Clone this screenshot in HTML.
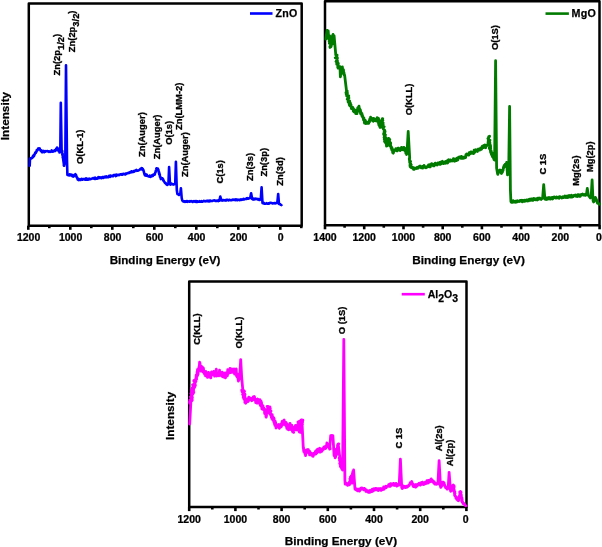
<!DOCTYPE html>
<html lang="en"><head><meta charset="utf-8"><title>XPS survey spectra</title>
<style>html,body{margin:0;padding:0;background:#fff}svg{display:block}svg{will-change:transform}</style>
</head><body>
<svg width="602" height="547" viewBox="0 0 602 547">
<rect width="602" height="547" fill="#fff"/>
<g font-family="'Liberation Sans', Arial, sans-serif" font-weight="bold" fill="#000" opacity=".999">
<style>text{stroke:#000;stroke-width:.25px;stroke-linejoin:round}</style>
<g fill="none" stroke="#000" stroke-width="2.5" stroke-linejoin="round">
<rect x="28.8" y="3.6" width="272.9" height="222.1"/>
<rect x="325" y="1.2" width="274.5" height="224.0"/>
<rect x="189.2" y="281.5" width="277.3" height="225.6"/>
</g>
<g stroke="#000" stroke-width="2.6">
<line x1="28.3" y1="225.7" x2="28.3" y2="229.8"/>
<line x1="49.3" y1="225.7" x2="49.3" y2="228.2"/>
<line x1="70.3" y1="225.7" x2="70.3" y2="229.8"/>
<line x1="91.3" y1="225.7" x2="91.3" y2="228.2"/>
<line x1="112.3" y1="225.7" x2="112.3" y2="229.8"/>
<line x1="133.3" y1="225.7" x2="133.3" y2="228.2"/>
<line x1="154.3" y1="225.7" x2="154.3" y2="229.8"/>
<line x1="175.3" y1="225.7" x2="175.3" y2="228.2"/>
<line x1="196.3" y1="225.7" x2="196.3" y2="229.8"/>
<line x1="217.3" y1="225.7" x2="217.3" y2="228.2"/>
<line x1="238.3" y1="225.7" x2="238.3" y2="229.8"/>
<line x1="259.3" y1="225.7" x2="259.3" y2="228.2"/>
<line x1="280.3" y1="225.7" x2="280.3" y2="229.8"/>
<line x1="301.3" y1="225.7" x2="301.3" y2="228.2"/>
<line x1="325.0" y1="225.2" x2="325.0" y2="229.3"/>
<line x1="344.6" y1="225.2" x2="344.6" y2="227.7"/>
<line x1="364.2" y1="225.2" x2="364.2" y2="229.3"/>
<line x1="383.8" y1="225.2" x2="383.8" y2="227.7"/>
<line x1="403.5" y1="225.2" x2="403.5" y2="229.3"/>
<line x1="423.1" y1="225.2" x2="423.1" y2="227.7"/>
<line x1="442.7" y1="225.2" x2="442.7" y2="229.3"/>
<line x1="462.3" y1="225.2" x2="462.3" y2="227.7"/>
<line x1="481.9" y1="225.2" x2="481.9" y2="229.3"/>
<line x1="501.5" y1="225.2" x2="501.5" y2="227.7"/>
<line x1="521.1" y1="225.2" x2="521.1" y2="229.3"/>
<line x1="540.8" y1="225.2" x2="540.8" y2="227.7"/>
<line x1="560.4" y1="225.2" x2="560.4" y2="229.3"/>
<line x1="580.0" y1="225.2" x2="580.0" y2="227.7"/>
<line x1="599.6" y1="225.2" x2="599.6" y2="229.3"/>
<line x1="189.2" y1="507.0" x2="189.2" y2="511.1"/>
<line x1="212.3" y1="507.0" x2="212.3" y2="509.5"/>
<line x1="235.4" y1="507.0" x2="235.4" y2="511.1"/>
<line x1="258.5" y1="507.0" x2="258.5" y2="509.5"/>
<line x1="281.6" y1="507.0" x2="281.6" y2="511.1"/>
<line x1="304.7" y1="507.0" x2="304.7" y2="509.5"/>
<line x1="327.8" y1="507.0" x2="327.8" y2="511.1"/>
<line x1="350.9" y1="507.0" x2="350.9" y2="509.5"/>
<line x1="374.0" y1="507.0" x2="374.0" y2="511.1"/>
<line x1="397.1" y1="507.0" x2="397.1" y2="509.5"/>
<line x1="420.2" y1="507.0" x2="420.2" y2="511.1"/>
<line x1="443.3" y1="507.0" x2="443.3" y2="509.5"/>
<line x1="466.4" y1="507.0" x2="466.4" y2="511.1"/>
</g>
<g font-size="10.1" text-anchor="middle">
<text transform="translate(28.6,241.0) scale(1.045,1)">1200</text>
<text transform="translate(70.6,241.0) scale(1.045,1)">1000</text>
<text transform="translate(112.6,241.0) scale(1.045,1)">800</text>
<text transform="translate(154.6,241.0) scale(1.045,1)">600</text>
<text transform="translate(196.6,241.0) scale(1.045,1)">400</text>
<text transform="translate(238.6,241.0) scale(1.045,1)">200</text>
<text transform="translate(280.6,241.0) scale(1.045,1)">0</text>
<text transform="translate(325.0,240.6) scale(1.045,1)">1400</text>
<text transform="translate(364.2,240.6) scale(1.045,1)">1200</text>
<text transform="translate(403.5,240.6) scale(1.045,1)">1000</text>
<text transform="translate(442.7,240.6) scale(1.045,1)">800</text>
<text transform="translate(481.9,240.6) scale(1.045,1)">600</text>
<text transform="translate(521.1,240.6) scale(1.045,1)">400</text>
<text transform="translate(560.4,240.6) scale(1.045,1)">200</text>
<text transform="translate(599.0,240.6) scale(1.045,1)">0</text>
<text transform="translate(189.2,522.7) scale(1.045,1)">1200</text>
<text transform="translate(235.4,522.7) scale(1.045,1)">1000</text>
<text transform="translate(281.6,522.7) scale(1.045,1)">800</text>
<text transform="translate(327.8,522.7) scale(1.045,1)">600</text>
<text transform="translate(374.0,522.7) scale(1.045,1)">400</text>
<text transform="translate(420.2,522.7) scale(1.045,1)">200</text>
<text transform="translate(465.8,522.7) scale(1.045,1)">0</text>
</g>
<g font-size="11.6">
<text x="109.7" y="264.4">Binding Energy (eV)</text>
<text x="412.2" y="264.2" font-size="11.8">Binding Energy (eV)</text>
<text x="284.8" y="544.6" font-size="11.75">Binding Energy (eV)</text>
<text transform="translate(9.2,140.2) rotate(-90)" font-size="11.75">Intensity</text>
<text transform="translate(173.9,440) rotate(-90)" font-size="11.75">Intensity</text>
</g>
<g fill="none" stroke-width="2.4" stroke-linejoin="round" stroke-linecap="round">
<path stroke="#0000ff" stroke-width="2.6" d="M29.7,165.8 L30.0,159.0 L30.4,158.3 L30.8,158.6 L31.2,158.0 L31.7,158.2 L32.1,158.0 L32.5,157.5 L32.8,156.4 L33.0,155.9 L33.2,156.9 L33.5,155.5 L33.8,155.1 L34.0,156.0 L34.2,154.7 L34.5,154.9 L34.8,153.9 L35.0,153.8 L35.2,152.6 L35.5,153.0 L35.8,153.0 L36.0,152.0 L36.2,152.0 L36.5,151.5 L36.8,150.0 L37.0,150.8 L37.2,150.2 L37.5,149.6 L37.9,149.0 L38.3,148.3 L38.8,149.5 L39.2,148.5 L39.6,148.3 L39.9,149.1 L40.1,149.8 L40.4,149.9 L40.6,150.7 L40.9,150.2 L41.1,151.3 L41.4,151.1 L41.6,151.6 L42.1,152.3 L42.5,152.2 L43.0,150.8 L43.4,150.9 L43.9,151.0 L44.3,152.2 L44.8,151.3 L45.2,151.6 L45.7,151.0 L46.1,151.3 L46.6,151.3 L47.1,151.1 L47.5,151.0 L48.0,151.4 L48.5,151.3 L48.9,151.9 L49.4,151.4 L49.9,151.8 L50.3,151.7 L50.8,151.9 L51.3,151.3 L51.7,150.4 L52.2,151.6 L52.7,151.7 L53.1,151.6 L53.6,151.0 L54.1,151.2 L54.5,150.3 L55.0,150.8 L55.3,151.0 L55.6,150.2 L55.9,149.4 L56.2,148.6 L56.5,149.7 L56.8,149.6 L57.1,147.6 L57.4,148.0 L57.6,148.9 L57.8,148.7 L58.0,148.6 L58.2,149.3 L58.4,150.5 L58.6,151.1 L58.8,150.1 L59.0,151.5 L59.2,150.9 L59.4,152.5 L59.6,152.5 L60.3,150.0 L60.8,102.8 L61.6,150.0 L61.5,150.8 L62.2,150.9 L62.3,151.2 L61.5,151.9 L61.6,152.0 L62.0,152.8 L61.9,152.7 L62.5,153.4 L62.7,154.3 L62.3,154.4 L62.5,155.0 L62.6,155.4 L62.7,156.1 L62.7,156.2 L63.0,156.4 L62.7,157.5 L62.9,157.6 L63.0,158.0 L64.1,165.8 L63.8,165.3 L64.3,164.5 L64.5,164.6 L64.1,164.1 L64.5,163.7 L64.5,163.3 L64.9,162.3 L64.5,162.4 L65.3,161.6 L65.0,161.4 L65.0,160.8 L65.1,160.3 L65.3,160.0 L66.0,65.3 L67.0,160.0 L67.4,175.0 L67.9,175.1 L68.3,174.7 L68.8,174.8 L69.3,175.4 L69.7,174.3 L70.2,175.1 L70.7,175.3 L71.1,174.7 L71.6,175.0 L71.9,174.9 L72.3,176.1 L72.6,175.6 L73.0,175.8 L73.3,176.6 L73.6,176.2 L73.9,176.2 L74.2,175.0 L74.5,174.9 L74.8,174.6 L75.1,174.9 L75.4,174.1 L75.6,174.4 L75.8,175.5 L76.0,174.9 L76.2,175.6 L76.4,176.4 L76.6,177.2 L76.7,177.0 L76.9,177.1 L77.1,177.4 L77.3,178.4 L77.5,178.3 L77.7,179.6 L77.9,179.6 L78.4,180.0 L78.8,179.1 L79.3,179.2 L79.7,179.9 L80.2,179.7 L80.6,179.9 L81.1,179.2 L81.6,178.9 L82.0,179.1 L82.5,179.7 L82.9,179.0 L83.4,179.1 L83.8,179.1 L84.3,179.1 L84.8,179.1 L85.2,179.7 L85.7,178.7 L86.1,178.4 L86.6,179.7 L87.0,179.6 L87.5,179.7 L87.9,178.9 L88.4,179.6 L88.9,179.5 L89.3,178.6 L89.8,179.2 L90.2,179.3 L90.7,179.1 L91.1,178.9 L91.6,178.8 L92.0,178.5 L92.5,178.5 L92.9,178.2 L93.4,178.0 L93.8,178.6 L94.3,178.1 L94.7,178.8 L95.2,177.7 L95.6,178.8 L96.1,178.5 L96.5,178.7 L97.0,178.6 L97.4,178.6 L97.9,178.1 L98.3,177.2 L98.8,178.2 L99.2,177.3 L99.7,177.5 L100.1,177.9 L100.6,177.6 L101.0,177.4 L101.5,178.1 L101.9,177.6 L102.4,177.2 L102.8,177.0 L103.3,177.8 L103.7,177.2 L104.2,177.5 L104.6,176.9 L105.1,176.6 L105.5,177.0 L106.0,177.3 L106.4,176.4 L106.9,177.2 L107.3,177.3 L107.8,177.1 L108.2,176.6 L108.6,177.0 L109.1,175.8 L109.5,176.6 L110.0,176.8 L110.4,175.6 L110.9,175.9 L111.3,175.8 L111.8,176.1 L112.2,175.9 L112.7,175.9 L113.1,176.2 L113.6,175.1 L114.0,175.1 L114.5,175.1 L114.9,175.1 L115.4,174.9 L115.8,176.1 L116.3,175.9 L116.7,174.7 L117.2,175.3 L117.6,174.9 L118.1,174.8 L118.5,174.8 L119.0,175.2 L119.4,175.0 L119.9,174.6 L120.3,174.3 L120.8,174.5 L121.2,174.1 L121.7,174.7 L122.1,174.8 L122.6,174.3 L123.0,173.8 L123.5,173.8 L123.9,174.1 L124.4,174.3 L124.8,174.1 L125.2,174.4 L125.7,173.6 L126.1,174.1 L126.6,173.7 L127.0,173.3 L127.5,173.1 L127.9,173.1 L128.3,173.2 L128.8,172.7 L129.2,172.9 L129.7,172.5 L130.1,172.0 L130.6,172.3 L131.0,172.4 L131.5,171.3 L131.9,171.7 L132.3,171.6 L132.8,172.1 L133.2,172.0 L133.7,171.0 L134.1,171.7 L134.6,171.4 L135.0,170.8 L135.5,170.3 L135.9,170.5 L136.4,169.9 L136.8,170.8 L137.3,170.5 L137.7,170.7 L138.2,170.5 L138.6,170.2 L139.1,170.2 L139.5,169.8 L140.0,169.6 L140.5,168.8 L141.0,169.2 L141.5,168.1 L142.0,168.6 L142.3,168.4 L142.5,169.7 L142.8,169.0 L143.1,169.5 L143.3,169.8 L143.6,170.8 L144.6,174.6 L145.0,175.3 L145.5,174.4 L145.9,174.3 L146.4,175.7 L146.8,174.8 L147.3,175.9 L147.7,175.8 L148.1,176.2 L148.6,176.5 L149.0,176.1 L149.5,176.6 L149.9,175.7 L150.4,176.8 L150.8,176.6 L151.2,176.4 L151.6,176.4 L152.0,175.3 L152.4,176.0 L152.9,176.0 L153.3,174.5 L153.7,174.6 L154.1,174.7 L154.5,174.8 L154.9,174.1 L155.0,173.3 L155.2,172.7 L155.3,172.4 L155.4,172.5 L155.6,172.2 L155.7,171.3 L155.8,170.8 L155.9,170.4 L156.1,169.9 L156.2,169.5 L156.3,168.6 L156.5,168.7 L156.6,168.3 L157.2,169.2 L157.9,168.6 L158.0,169.2 L157.9,169.6 L158.5,170.1 L158.4,170.4 L158.6,171.1 L158.4,171.0 L158.9,172.1 L158.9,172.2 L159.2,172.4 L158.9,172.9 L159.3,173.4 L159.2,174.1 L159.8,174.3 L159.6,174.9 L159.7,175.7 L159.9,175.7 L160.0,176.8 L160.1,176.9 L160.3,176.9 L160.4,177.3 L160.5,177.5 L160.7,178.6 L160.8,179.1 L161.3,178.7 L161.9,178.1 L162.4,178.3 L162.6,178.5 L162.8,178.9 L163.0,179.9 L163.2,179.5 L163.5,181.0 L163.7,180.7 L163.9,181.3 L164.1,181.6 L164.4,181.9 L164.8,182.7 L165.1,183.0 L165.4,183.0 L165.8,183.2 L166.1,183.9 L166.4,184.4 L166.7,184.1 L167.1,184.9 L167.4,184.9 L168.4,184.0 L169.1,167.1 L170.0,184.0 L170.5,184.6 L170.9,184.0 L171.4,183.6 L171.8,183.7 L172.3,184.3 L172.7,184.2 L173.2,184.6 L173.6,184.5 L174.1,184.0 L175.2,184.0 L175.9,161.9 L176.8,190.0 L177.4,194.1 L177.9,194.1 L178.5,194.3 L179.0,194.9 L179.4,194.3 L179.9,193.9 L180.3,194.0 L180.9,188.2 L181.7,198.0 L182.3,200.5 L182.7,201.0 L183.2,201.4 L183.6,201.6 L184.0,201.5 L184.5,201.3 L184.9,201.9 L185.4,201.3 L185.8,201.4 L186.3,201.7 L186.7,201.1 L187.2,201.1 L187.7,201.8 L188.1,201.3 L188.6,201.4 L189.0,201.6 L189.5,201.7 L190.0,201.0 L190.4,201.3 L190.9,201.4 L191.3,201.5 L191.8,201.2 L192.2,201.6 L192.7,202.0 L193.2,201.4 L193.6,201.5 L194.1,201.1 L194.5,201.3 L195.0,201.7 L195.5,201.1 L195.9,201.9 L196.4,201.9 L196.8,201.1 L197.3,201.9 L197.7,201.4 L198.2,201.5 L198.7,201.7 L199.1,201.7 L199.6,201.2 L200.0,201.6 L200.5,201.5 L201.0,201.7 L201.4,201.1 L201.9,201.6 L202.3,201.8 L202.8,201.4 L203.3,201.3 L203.7,200.8 L204.2,201.2 L204.7,201.0 L205.1,201.4 L205.6,201.3 L206.0,201.2 L206.5,200.8 L207.0,201.2 L207.4,201.2 L207.9,200.7 L208.3,201.4 L208.8,201.1 L209.3,200.6 L209.7,201.4 L210.2,200.6 L210.7,200.7 L211.1,201.1 L211.6,201.0 L212.0,200.9 L212.5,201.0 L213.0,200.7 L213.4,200.6 L213.9,200.4 L214.3,200.3 L214.8,200.7 L215.2,200.9 L215.7,201.0 L216.2,200.7 L216.6,200.9 L217.1,200.6 L217.5,200.5 L218.0,200.6 L218.4,201.1 L218.9,200.2 L219.3,200.7 L220.3,196.6 L221.4,200.4 L221.9,200.4 L222.3,200.1 L222.8,200.6 L223.2,200.2 L223.7,200.1 L224.2,200.2 L224.6,200.3 L225.1,200.5 L225.5,200.1 L226.0,200.6 L226.4,199.8 L226.9,199.9 L227.4,199.8 L227.8,199.8 L228.3,200.4 L228.7,200.3 L229.2,199.8 L229.7,199.8 L230.1,200.0 L230.6,200.3 L231.0,200.3 L231.5,200.3 L232.0,200.1 L232.4,199.6 L232.9,199.8 L233.3,199.6 L233.8,199.9 L234.3,200.0 L234.7,199.6 L235.2,199.6 L235.6,200.1 L236.1,199.3 L236.6,200.1 L237.0,200.2 L237.5,200.2 L237.9,199.6 L238.4,199.8 L238.8,199.8 L239.3,199.8 L239.8,200.2 L240.2,199.8 L240.7,199.4 L241.1,200.0 L241.6,199.6 L242.1,199.5 L242.5,199.6 L243.0,199.6 L243.5,198.8 L243.9,199.5 L244.4,199.3 L244.9,199.1 L245.3,199.0 L245.8,198.9 L246.3,198.5 L246.8,198.8 L247.2,198.2 L247.7,198.6 L248.2,198.7 L248.6,198.4 L249.1,198.4 L250.2,198.0 L251.1,193.2 L252.2,199.1 L252.7,199.2 L253.1,199.6 L253.6,199.5 L254.0,198.7 L254.5,199.4 L255.0,199.2 L255.4,198.6 L255.9,199.0 L256.4,198.8 L256.8,198.7 L257.3,199.1 L257.7,199.5 L258.2,199.1 L258.6,199.1 L259.0,199.9 L259.5,199.9 L259.9,199.9 L260.8,199.0 L261.6,187.4 L262.5,203.0 L263.4,203.4 L263.9,203.0 L264.3,203.7 L264.8,203.5 L265.2,203.8 L265.7,203.6 L266.1,203.6 L266.6,203.2 L267.0,203.6 L267.5,203.7 L268.0,203.7 L268.4,203.3 L268.9,203.6 L269.3,203.3 L269.8,202.9 L270.2,202.9 L270.7,202.9 L271.1,203.0 L271.6,202.9 L272.1,203.3 L272.5,203.4 L273.0,203.3 L273.4,203.2 L273.9,203.4 L274.3,203.0 L274.8,203.2 L275.2,203.5 L275.7,203.2 L276.2,203.0 L276.8,202.8 L277.3,203.0 L278.2,194.0 L279.0,204.0 L280.0,204.0 L280.4,204.7 L280.7,204.8 L281.0,204.8 L281.4,205.2"/>
<path stroke="#007b00" stroke-width="2.8" d="M325.8,39.1 L327.0,30.4 L327.2,31.5 L327.4,32.6 L327.5,33.4 L327.7,34.7 L327.9,34.0 L328.1,35.4 L328.2,30.9 L328.4,33.8 L328.6,36.9 L328.8,35.7 L328.9,37.6 L329.1,35.8 L328.1,36.2 L328.6,36.8 L329.6,35.8 L328.7,37.0 L330.7,38.8 L328.7,39.3 L328.7,39.3 L328.7,38.0 L330.9,39.1 L329.2,41.6 L331.0,40.2 L331.4,41.3 L330.7,40.9 L331.5,42.6 L331.6,43.6 L329.9,42.6 L329.6,42.5 L329.4,43.4 L331.0,43.0 L331.2,44.4 L330.3,46.1 L330.9,45.2 L331.0,46.7 L331.1,46.6 L330.0,47.4 L329.9,46.4 L332.2,44.0 L332.1,44.4 L331.6,43.0 L330.2,43.0 L332.7,42.6 L332.3,44.2 L332.8,42.1 L331.3,42.2 L332.5,40.6 L332.5,42.0 L332.8,39.5 L333.1,39.2 L331.5,40.2 L333.2,39.0 L333.2,39.1 L331.6,38.0 L331.3,36.9 L331.3,38.1 L333.7,36.2 L331.1,38.0 L332.5,36.0 L332.5,35.8 L333.0,34.4 L333.6,36.3 L334.1,35.8 L335.8,54.9 L336.7,55.2 L335.7,54.7 L337.1,55.1 L336.1,57.6 L335.2,57.8 L337.4,58.0 L337.1,57.1 L336.2,57.7 L337.4,58.5 L336.4,60.8 L337.5,61.2 L336.6,60.4 L337.4,60.8 L336.3,61.1 L336.0,61.5 L338.3,63.4 L337.4,62.7 L336.8,62.1 L336.7,64.3 L338.2,63.7 L338.1,65.2 L338.0,65.4 L338.2,65.1 L338.1,65.4 L337.7,67.0 L338.3,66.3 L339.0,67.7 L338.1,66.5 L338.0,68.2 L338.4,68.1 L338.8,66.3 L339.2,68.1 L339.6,66.7 L340.0,66.6 L340.3,75.7 L340.4,76.8 L340.6,75.5 L340.7,75.8 L340.8,73.2 L340.9,74.2 L341.1,74.2 L341.2,74.2 L341.3,71.4 L341.5,73.4 L341.6,73.1 L341.7,71.8 L341.9,72.8 L342.0,72.2 L342.1,69.6 L342.2,69.2 L342.4,67.0 L342.5,68.2 L342.6,70.3 L342.8,71.3 L342.9,69.4 L343.1,70.9 L343.2,71.5 L343.3,72.0 L343.5,69.7 L343.6,73.2 L343.8,72.6 L343.9,73.5 L344.0,72.7 L344.2,74.2 L344.3,75.4 L344.5,75.1 L344.6,74.9 L346.6,91.6 L347.2,91.0 L346.0,92.4 L347.3,92.3 L347.4,93.7 L346.1,93.8 L346.6,93.3 L346.5,94.4 L346.7,94.5 L346.5,95.6 L347.4,96.4 L348.0,96.0 L348.8,95.9 L347.7,97.0 L347.9,97.1 L348.9,98.1 L347.2,99.1 L347.5,99.4 L348.1,100.0 L349.6,100.9 L348.5,101.4 L349.1,100.8 L348.1,101.8 L349.1,103.1 L349.1,102.5 L349.3,105.0 L349.5,103.8 L349.7,103.1 L349.9,105.9 L350.1,102.4 L350.4,103.2 L350.6,105.6 L350.8,106.3 L351.0,104.6 L351.2,107.1 L351.4,108.7 L351.6,107.4 L351.9,107.2 L352.3,107.8 L352.6,107.2 L353.0,107.9 L353.3,111.1 L353.6,108.9 L354.0,111.8 L354.3,111.9 L354.7,110.9 L355.0,110.8 L355.3,110.1 L355.6,113.5 L356.0,111.7 L356.3,111.7 L356.6,112.4 L356.8,111.2 L357.0,113.6 L357.1,111.0 L357.3,109.7 L357.5,110.0 L357.7,108.0 L357.9,109.7 L358.1,108.5 L358.2,107.4 L358.4,109.1 L358.6,107.4 L358.8,109.2 L359.0,106.1 L359.2,108.8 L359.4,108.1 L359.5,111.4 L359.7,111.1 L359.9,109.2 L360.1,109.8 L360.3,109.7 L360.5,113.7 L360.7,111.1 L360.9,112.9 L361.0,112.7 L361.2,113.9 L361.4,114.1 L361.6,114.1 L361.8,115.6 L361.9,113.4 L362.1,116.5 L362.3,115.0 L362.5,116.4 L362.6,116.0 L362.8,116.3 L363.0,117.7 L363.2,117.9 L363.3,117.9 L363.5,119.9 L363.7,119.7 L363.9,117.9 L364.0,119.2 L364.2,120.5 L364.4,122.8 L364.6,123.1 L364.7,122.1 L364.9,122.4 L365.4,120.4 L365.9,123.5 L366.4,122.1 L366.8,122.7 L367.3,123.2 L367.8,122.9 L368.3,122.4 L368.6,121.9 L368.8,123.3 L369.1,120.8 L369.3,120.4 L369.6,121.9 L369.8,118.9 L370.1,118.9 L370.3,120.7 L370.6,117.2 L370.8,118.6 L371.2,120.2 L371.6,119.8 L372.1,118.9 L372.5,118.5 L372.9,120.7 L373.3,121.4 L373.7,118.4 L374.1,120.0 L374.6,120.5 L375.0,120.4 L375.4,119.9 L375.8,120.8 L376.1,119.0 L376.5,120.4 L376.9,121.0 L377.2,117.6 L377.5,117.9 L377.9,118.6 L378.7,119.6 L378.5,118.5 L378.7,120.9 L379.4,120.8 L377.6,121.5 L378.1,121.5 L379.7,122.1 L378.2,121.7 L379.9,121.9 L379.4,122.8 L378.6,123.7 L378.5,123.1 L379.3,123.5 L378.8,124.9 L380.3,126.0 L379.2,125.5 L379.7,126.3 L380.1,127.4 L380.0,126.1 L380.4,127.4 L380.9,126.3 L380.9,126.5 L381.5,126.1 L381.1,125.1 L381.0,124.6 L381.5,124.7 L380.4,123.7 L381.0,124.2 L380.7,123.7 L381.8,122.0 L381.9,121.5 L380.9,122.1 L381.2,122.2 L381.8,120.6 L382.6,119.6 L382.5,119.2 L381.5,120.5 L382.7,118.6 L382.4,118.7 L381.7,120.1 L382.9,120.3 L381.8,120.3 L382.3,120.0 L382.4,121.2 L382.5,121.2 L382.1,122.6 L383.2,123.0 L382.8,123.6 L383.0,123.5 L383.2,124.3 L382.9,123.4 L382.3,124.1 L382.3,125.9 L383.3,126.1 L382.4,126.0 L384.2,126.8 L383.4,126.9 L382.8,126.8 L382.9,127.7 L383.5,129.1 L383.1,128.4 L383.4,128.6 L383.4,129.2 L383.9,129.3 L384.8,130.4 L384.9,131.5 L384.1,131.6 L384.5,132.0 L385.1,131.8 L384.6,132.5 L384.7,133.8 L383.8,133.3 L383.6,133.8 L383.7,134.5 L385.5,134.9 L384.3,135.6 L384.3,136.5 L385.2,135.9 L384.4,137.3 L385.7,137.7 L384.8,138.7 L384.1,137.5 L385.6,138.6 L384.3,139.3 L386.1,139.7 L385.0,139.3 L384.5,141.3 L385.4,141.8 L384.6,140.9 L384.7,141.7 L384.8,141.9 L385.5,142.4 L385.7,143.2 L386.0,142.0 L386.3,142.4 L386.5,146.1 L386.8,143.7 L387.1,145.3 L387.4,145.7 L387.3,145.3 L386.9,144.5 L387.0,144.5 L388.6,144.1 L388.6,143.0 L387.2,143.1 L388.1,142.8 L388.0,142.4 L388.8,142.5 L388.1,141.2 L389.2,140.4 L388.0,140.1 L388.0,140.5 L389.5,139.2 L388.3,138.4 L389.1,138.7 L388.7,138.4 L389.2,139.8 L388.9,139.3 L389.8,139.7 L389.0,140.6 L389.4,140.7 L389.6,141.6 L390.3,142.5 L390.7,143.1 L390.5,143.4 L390.0,144.3 L390.5,145.0 L390.7,145.0 L390.0,145.7 L390.3,144.9 L389.8,145.5 L390.7,146.5 L390.9,146.1 L391.1,148.0 L391.2,147.1 L391.4,146.8 L391.6,149.7 L391.8,149.4 L392.0,148.0 L392.2,148.5 L392.3,149.3 L392.5,150.5 L392.7,152.7 L392.9,151.9 L393.3,153.2 L393.7,151.8 L394.1,150.3 L394.5,150.8 L395.0,150.3 L395.4,150.0 L395.8,148.7 L396.2,150.4 L396.6,149.9 L397.1,150.9 L397.5,150.5 L398.0,148.2 L398.4,149.6 L398.9,148.3 L399.3,150.0 L399.8,149.0 L400.2,150.6 L400.7,149.0 L401.1,149.8 L401.5,147.3 L401.9,147.8 L402.4,149.7 L402.8,147.9 L403.2,147.6 L403.6,147.4 L404.0,147.4 L404.2,148.8 L404.4,149.8 L404.5,148.8 L404.7,150.7 L404.9,149.8 L405.1,148.5 L405.3,151.4 L405.4,150.4 L405.6,149.6 L405.8,153.2 L406.0,150.3 L406.2,152.6 L406.4,152.7 L406.5,154.5 L406.7,153.2 L406.9,154.0 L408.2,131.5 L409.7,158.2 L409.3,158.3 L409.3,159.2 L409.7,160.0 L409.5,159.8 L409.6,161.3 L410.6,161.5 L410.3,161.3 L409.7,162.4 L410.3,161.7 L409.8,162.2 L410.8,163.9 L410.0,164.2 L410.3,164.5 L411.2,164.9 L411.1,165.0 L410.0,165.7 L410.9,165.6 L410.7,166.3 L410.2,166.7 L411.0,167.5 L411.5,167.2 L412.0,167.6 L412.5,168.3 L413.0,167.4 L413.5,169.3 L414.0,168.8 L414.5,169.2 L415.0,168.0 L415.5,168.5 L415.9,168.4 L416.4,167.9 L416.8,168.6 L417.3,167.3 L417.7,167.9 L418.2,168.1 L418.6,167.6 L419.1,166.8 L419.5,166.1 L420.0,166.0 L420.5,166.8 L420.9,167.4 L421.4,167.9 L421.8,167.7 L422.3,166.4 L422.7,168.2 L423.2,166.2 L423.6,167.5 L424.1,165.4 L424.5,167.4 L425.0,166.6 L425.4,167.0 L425.9,167.8 L426.3,167.5 L426.8,166.8 L427.2,167.1 L427.7,166.7 L428.1,166.2 L428.5,164.9 L429.0,165.8 L429.4,166.8 L429.9,164.7 L430.3,166.9 L430.8,165.4 L431.2,164.9 L431.6,163.6 L432.1,164.7 L432.5,163.9 L433.0,165.3 L433.4,165.9 L433.9,165.9 L434.3,164.9 L434.8,164.0 L435.2,163.1 L435.6,164.8 L436.1,164.3 L436.5,164.7 L437.0,163.5 L437.4,165.0 L437.9,162.8 L438.3,163.6 L438.7,162.9 L439.2,162.7 L439.6,163.7 L440.1,164.4 L440.5,162.1 L441.0,163.4 L441.4,163.7 L441.8,161.9 L442.3,161.3 L442.7,162.8 L443.2,163.5 L443.6,163.6 L444.1,163.0 L444.5,161.9 L445.0,161.9 L445.4,162.1 L445.8,163.2 L446.3,161.2 L446.7,161.0 L447.2,161.9 L447.6,163.0 L448.1,160.4 L448.5,159.8 L448.9,160.0 L449.4,161.3 L449.8,161.3 L450.3,159.9 L450.7,159.8 L451.2,161.0 L451.6,160.6 L452.0,160.9 L452.5,161.0 L452.9,160.9 L453.4,158.7 L453.8,159.9 L454.3,160.9 L454.7,161.2 L455.2,159.0 L455.6,160.6 L456.1,159.8 L456.5,160.5 L457.0,158.2 L457.4,159.5 L457.8,159.9 L458.3,158.6 L458.7,157.2 L459.2,157.4 L459.6,157.1 L460.1,156.8 L460.5,156.8 L461.0,158.2 L461.4,156.4 L461.9,158.4 L462.3,158.2 L462.8,158.4 L463.2,157.2 L463.6,158.0 L464.0,157.5 L464.4,158.0 L464.8,157.9 L465.2,156.6 L465.6,157.5 L466.0,154.4 L466.4,154.2 L466.8,153.9 L467.2,154.1 L467.6,154.5 L468.0,154.5 L468.4,155.1 L468.8,155.1 L469.2,152.7 L469.6,153.5 L470.0,153.8 L470.4,153.0 L470.8,151.9 L471.2,153.3 L471.6,152.8 L472.0,152.2 L472.4,153.0 L472.8,152.2 L473.3,153.6 L473.7,153.4 L474.1,150.2 L474.5,152.4 L474.9,152.0 L475.3,150.4 L475.8,149.6 L476.2,150.6 L476.6,150.0 L477.0,151.2 L477.4,151.6 L477.8,149.5 L478.2,149.0 L478.7,149.6 L479.1,150.1 L479.5,150.2 L479.9,149.0 L480.3,149.0 L480.7,147.8 L481.1,147.8 L481.5,149.3 L482.0,148.0 L482.4,146.1 L482.8,147.2 L483.2,146.3 L483.6,147.6 L484.0,145.3 L484.4,145.8 L484.9,144.9 L485.3,146.1 L485.7,147.7 L486.1,145.9 L486.5,145.5 L487.1,145.0 L487.8,145.3 L488.7,136.6 L489.6,136.3 L488.5,138.1 L487.9,138.5 L488.6,137.5 L488.5,138.8 L488.8,139.4 L488.2,139.3 L490.0,140.2 L489.1,140.0 L488.8,142.1 L489.6,141.7 L488.5,141.9 L489.9,142.5 L489.6,143.8 L489.7,143.8 L488.7,143.1 L490.1,144.3 L490.3,145.5 L490.4,145.2 L490.6,146.3 L490.5,145.7 L490.3,146.6 L490.7,148.1 L489.4,147.6 L489.6,148.1 L489.7,148.9 L489.4,148.5 L490.1,148.8 L490.2,150.0 L490.4,150.0 L490.6,152.2 L490.8,152.6 L490.9,150.7 L491.1,150.5 L491.3,153.7 L491.5,154.6 L491.7,153.8 L491.9,152.7 L492.1,153.5 L492.3,156.2 L492.4,156.7 L492.6,154.1 L492.8,155.1 L493.0,156.3 L493.2,157.0 L493.4,156.7 L493.6,158.7 L493.8,157.9 L494.0,159.6 L494.2,158.0 L494.4,159.6 L494.6,160.0 L495.6,60.7 L496.6,168.0 L497.5,173.3 L497.8,174.3 L498.1,173.1 L498.3,171.0 L498.6,170.7 L498.9,171.8 L499.2,170.7 L499.4,170.3 L499.7,170.2 L500.0,169.9 L500.2,170.6 L500.4,172.1 L500.6,170.4 L500.8,171.8 L501.0,171.3 L501.2,172.6 L501.4,173.5 L501.6,173.3 L501.8,171.8 L501.9,172.4 L502.1,172.6 L502.3,170.2 L502.5,172.0 L502.6,170.5 L502.8,170.4 L503.0,170.3 L503.1,170.4 L503.3,167.8 L503.5,168.7 L503.6,166.9 L503.8,167.5 L504.0,167.0 L504.1,165.5 L504.3,166.0 L504.5,166.0 L504.7,166.2 L504.8,166.6 L505.0,164.9 L505.3,164.1 L505.5,164.2 L505.8,164.3 L506.1,164.6 L506.3,164.2 L506.6,162.4 L507.5,174.9 L508.7,170.0 L509.6,106.5 L510.4,190.0 L510.9,201.5 L511.4,202.4 L511.8,201.1 L512.3,200.9 L512.8,202.3 L513.2,200.7 L513.7,201.4 L514.1,202.0 L514.6,201.6 L515.1,201.3 L515.5,202.3 L516.0,201.1 L516.4,201.6 L516.9,202.1 L517.4,200.8 L517.8,201.2 L518.3,201.5 L518.7,201.4 L519.2,201.5 L519.6,200.8 L520.1,201.2 L520.5,200.3 L521.0,200.3 L521.4,200.8 L521.9,200.3 L522.3,201.9 L522.8,200.4 L523.2,200.4 L523.7,201.3 L524.1,201.2 L524.6,200.2 L525.0,201.3 L525.5,200.8 L525.9,200.3 L526.4,200.7 L526.8,199.9 L527.3,199.8 L527.7,201.0 L528.2,200.1 L528.6,200.9 L529.1,199.4 L529.5,199.3 L530.0,199.1 L530.4,200.4 L530.9,200.0 L531.3,198.8 L531.8,198.8 L532.2,200.3 L532.7,199.6 L533.1,200.3 L533.6,198.5 L534.0,199.6 L534.5,198.6 L534.9,199.3 L535.4,199.7 L535.9,199.4 L536.3,199.4 L536.8,198.6 L537.3,200.0 L537.8,198.3 L538.2,198.1 L538.7,199.3 L539.2,198.1 L539.7,198.0 L540.2,198.7 L540.6,199.1 L541.1,199.5 L541.6,198.7 L542.6,198.4 L543.7,184.6 L544.9,198.9 L545.4,199.3 L545.8,197.9 L546.3,199.0 L546.7,199.4 L547.2,197.9 L547.6,199.1 L548.1,198.1 L548.5,198.1 L549.0,197.4 L549.4,198.9 L549.9,198.4 L550.4,199.1 L550.8,198.2 L551.3,197.5 L551.7,197.6 L552.2,197.6 L552.6,199.0 L553.1,197.4 L553.5,197.1 L554.0,197.6 L554.4,197.0 L554.9,197.7 L555.4,198.0 L555.8,198.1 L556.3,197.0 L556.7,196.9 L557.2,197.6 L557.6,197.9 L558.1,197.4 L558.5,197.6 L559.0,198.3 L559.4,196.6 L559.9,197.3 L560.3,196.8 L560.8,197.2 L561.2,197.3 L561.7,198.0 L562.1,197.2 L562.6,197.4 L563.0,196.8 L563.5,197.6 L563.9,197.6 L564.4,196.5 L564.8,196.0 L565.3,196.3 L565.7,196.5 L566.2,197.6 L566.6,196.2 L567.1,196.9 L567.5,196.9 L568.0,197.5 L568.4,195.7 L568.9,197.1 L569.3,196.1 L569.8,195.6 L570.2,196.7 L570.7,197.1 L571.1,196.5 L571.6,195.3 L572.0,197.2 L572.5,195.9 L572.9,196.4 L573.4,196.6 L573.8,195.5 L574.3,195.8 L574.7,195.6 L575.2,195.1 L575.6,194.9 L576.1,196.3 L576.5,195.8 L577.0,195.5 L577.4,196.5 L577.9,194.7 L578.4,195.1 L578.9,194.8 L579.3,196.4 L579.8,196.0 L580.3,196.2 L580.7,195.3 L581.2,194.4 L581.7,195.0 L582.2,194.5 L582.6,194.0 L583.1,195.0 L583.6,195.2 L584.1,194.7 L584.7,194.4 L585.2,195.3 L585.7,195.4 L586.4,194.6 L587.3,188.4 L588.4,195.5 L589.1,196.1 L590.3,197.9 L591.2,196.0 L592.1,180.0 L593.0,200.0 L593.3,201.5 L593.6,201.9 L593.8,201.6 L594.1,200.2 L594.4,199.1 L594.6,200.0 L594.9,198.3 L595.2,198.8 L595.4,197.4 L595.7,197.9 L595.9,199.3 L596.0,198.9 L596.2,199.1 L596.4,199.2 L596.6,200.2 L596.7,201.5 L596.9,200.8 L597.1,200.8 L597.3,201.9 L597.4,203.1 L597.6,202.7 L598.0,202.8 L598.5,203.5 L599.0,204.4 L599.4,203.9"/>
<path stroke="#ff00ff" stroke-width="2.8" d="M189.7,424.0 L190.8,403.2 L190.8,402.4 L189.8,403.4 L189.5,401.9 L192.3,400.1 L191.3,401.3 L189.8,400.1 L192.0,399.9 L192.1,398.5 L190.7,397.9 L191.6,400.0 L191.9,399.1 L191.3,398.6 L190.5,396.7 L192.4,397.6 L191.7,395.1 L191.3,395.1 L191.4,396.5 L191.2,396.3 L193.4,393.2 L191.9,394.1 L190.9,393.5 L193.8,392.0 L192.9,391.6 L192.9,393.6 L191.7,390.3 L191.4,391.6 L191.3,389.7 L192.9,391.9 L192.7,389.8 L193.5,388.3 L193.4,388.1 L193.6,390.2 L193.3,388.3 L192.0,388.0 L193.9,386.2 L192.9,388.6 L195.4,385.2 L194.5,387.5 L193.1,385.9 L192.6,384.7 L194.8,385.0 L195.2,382.8 L193.9,385.0 L194.8,383.1 L194.3,384.5 L195.0,380.8 L195.9,381.4 L194.8,380.5 L194.9,380.4 L193.8,381.0 L194.0,381.1 L193.9,380.6 L196.6,379.2 L196.4,377.9 L195.8,378.3 L195.9,379.5 L196.1,376.9 L196.2,375.1 L196.3,379.7 L196.5,375.4 L196.6,374.8 L196.7,377.7 L196.9,373.9 L197.0,375.5 L197.1,371.7 L197.2,375.9 L197.4,371.4 L197.5,369.5 L197.6,375.5 L197.8,369.5 L197.9,374.4 L198.0,374.3 L198.2,371.2 L198.3,370.0 L199.4,365.3 L199.6,362.2 L199.9,363.0 L200.1,364.5 L200.4,366.2 L200.6,368.1 L200.9,371.1 L201.1,367.1 L201.4,366.1 L201.6,369.0 L201.9,369.8 L202.2,367.2 L202.5,367.2 L202.8,370.9 L203.1,372.2 L203.4,368.2 L203.7,371.3 L204.0,372.0 L204.4,373.7 L204.8,374.5 L205.1,372.1 L205.5,375.9 L205.9,371.3 L206.2,375.4 L206.6,376.1 L207.0,374.5 L207.4,377.4 L207.8,375.0 L208.1,372.5 L208.5,372.4 L208.9,375.9 L209.2,373.8 L209.6,377.1 L210.0,376.5 L210.4,373.3 L210.8,377.8 L211.1,373.7 L211.5,371.9 L211.9,372.7 L212.2,374.3 L212.6,374.7 L213.0,374.0 L213.4,373.0 L213.8,371.3 L214.2,373.2 L214.6,376.2 L215.0,373.1 L215.4,375.7 L215.8,372.4 L216.3,369.2 L216.7,376.0 L217.2,375.4 L217.6,373.1 L218.1,373.0 L218.6,373.2 L219.0,375.9 L219.5,370.1 L219.9,374.2 L220.4,373.3 L220.8,373.9 L221.1,372.6 L221.5,375.8 L221.9,376.1 L222.2,372.2 L222.6,376.6 L223.0,375.2 L223.4,375.8 L223.7,377.1 L224.1,376.5 L224.4,373.1 L224.7,376.5 L225.1,374.6 L225.4,377.8 L225.7,373.0 L226.0,376.7 L226.4,375.8 L226.7,374.7 L227.0,373.5 L227.4,375.8 L227.7,369.7 L228.1,373.3 L228.4,373.1 L228.8,373.2 L229.1,371.0 L229.5,371.4 L230.0,368.5 L230.4,369.5 L230.9,372.5 L231.3,369.7 L231.8,369.0 L232.3,371.1 L232.7,372.1 L233.2,372.4 L233.6,372.6 L234.1,368.9 L234.6,374.1 L235.0,370.9 L235.4,374.0 L235.9,371.9 L236.2,368.9 L236.5,375.9 L236.7,373.8 L237.0,376.9 L237.3,374.0 L238.4,381.0 L239.6,378.0 L240.7,359.6 L241.7,378.0 L242.8,389.7 L244.5,391.2 L241.7,390.1 L242.2,392.0 L242.2,390.6 L242.0,390.8 L244.8,394.0 L243.1,393.7 L243.5,393.4 L243.3,394.2 L243.0,393.5 L244.0,393.8 L243.8,396.6 L242.6,394.4 L245.1,394.7 L243.5,397.7 L244.4,397.0 L244.8,396.6 L243.2,397.2 L244.1,399.3 L246.3,399.7 L246.1,400.6 L246.1,401.0 L246.5,398.8 L244.6,399.8 L245.6,401.0 L244.9,402.5 L245.1,401.0 L244.8,402.2 L245.9,403.0 L245.7,403.2 L246.0,402.5 L246.3,400.5 L246.6,401.5 L246.9,400.6 L247.2,399.3 L247.6,401.2 L247.9,398.7 L248.2,401.5 L248.5,400.8 L248.8,397.2 L249.1,399.1 L249.6,399.8 L250.0,397.8 L250.5,398.4 L251.0,399.3 L251.5,400.1 L251.9,400.7 L252.4,398.2 L252.8,399.9 L253.2,396.9 L253.6,399.2 L254.0,398.2 L254.4,396.5 L254.9,400.0 L255.3,399.8 L255.7,402.5 L256.1,399.4 L256.5,400.7 L256.9,403.0 L257.3,401.3 L257.8,399.0 L258.2,403.0 L258.6,400.6 L259.0,402.4 L259.4,399.8 L259.9,399.7 L260.3,405.5 L260.7,403.2 L260.9,400.8 L261.1,401.9 L261.3,402.4 L261.5,402.4 L261.7,407.3 L261.9,408.7 L262.1,407.0 L262.4,405.9 L262.6,409.3 L262.8,407.4 L263.0,405.6 L263.2,409.4 L263.4,407.8 L263.6,407.7 L263.8,408.4 L264.0,409.9 L264.2,409.6 L264.4,408.9 L264.5,411.8 L264.7,413.7 L264.9,412.4 L265.1,409.5 L265.2,413.9 L265.4,410.4 L265.6,413.5 L265.8,416.2 L266.0,415.5 L266.1,417.2 L266.3,416.7 L266.5,415.7 L265.9,414.2 L266.5,415.3 L266.0,413.8 L267.6,413.4 L267.2,413.5 L268.3,411.6 L266.2,413.3 L267.7,410.8 L266.2,410.7 L267.5,412.3 L266.6,409.8 L268.1,410.0 L268.6,411.2 L269.0,409.9 L267.8,407.5 L268.8,408.0 L267.8,408.3 L269.4,407.6 L269.4,408.4 L268.2,406.5 L267.1,406.5 L269.6,408.2 L269.9,406.9 L268.7,409.6 L268.9,409.2 L270.3,408.2 L267.7,410.7 L269.3,409.2 L270.2,409.9 L268.2,410.4 L268.1,411.1 L270.4,411.7 L271.0,411.0 L268.8,411.7 L269.9,413.2 L270.2,414.0 L270.4,412.2 L270.7,415.3 L270.9,414.9 L271.2,415.6 L271.4,417.5 L271.7,417.6 L271.9,418.7 L272.2,414.7 L272.4,416.4 L272.7,420.0 L272.9,417.2 L273.2,418.2 L273.4,417.4 L273.5,419.0 L273.7,417.7 L273.8,421.9 L274.0,421.2 L274.1,418.6 L274.3,423.8 L274.5,421.8 L274.6,420.8 L274.8,423.2 L274.9,425.5 L275.1,422.6 L275.2,421.2 L275.4,422.7 L275.6,422.4 L275.7,425.4 L275.9,424.6 L276.0,428.0 L276.2,424.9 L276.3,424.4 L276.5,427.4 L276.9,427.0 L277.3,425.0 L277.7,425.7 L278.1,425.1 L278.6,424.6 L279.0,426.9 L279.4,428.3 L279.8,425.7 L280.2,424.7 L280.6,425.9 L280.9,423.9 L281.3,426.8 L281.7,424.6 L282.1,421.5 L282.4,425.1 L282.8,421.9 L283.2,423.2 L283.7,420.4 L284.1,420.0 L284.6,422.4 L284.8,424.7 L285.1,424.3 L285.3,422.8 L285.6,424.3 L285.8,425.5 L286.1,422.5 L286.3,426.3 L286.6,426.7 L286.8,428.3 L287.1,424.0 L287.3,427.1 L287.6,427.2 L287.8,429.4 L288.1,427.2 L288.3,428.3 L288.6,428.8 L288.9,429.7 L289.1,426.4 L289.4,426.9 L289.7,428.5 L290.0,423.5 L290.2,428.2 L290.5,424.3 L290.8,424.9 L290.8,424.8 L291.8,425.9 L291.8,425.2 L292.3,427.5 L291.9,426.4 L290.8,427.5 L290.4,429.2 L291.5,429.7 L291.0,429.3 L292.7,429.7 L291.8,428.5 L292.0,430.0 L293.4,431.9 L293.6,432.4 L292.5,431.6 L292.8,429.5 L293.0,428.4 L293.3,429.4 L293.5,427.5 L293.8,427.7 L294.0,429.7 L294.3,427.3 L294.5,429.1 L294.8,427.5 L295.0,426.5 L295.3,429.9 L295.5,425.3 L295.8,426.6 L296.1,429.1 L296.4,427.6 L296.6,428.7 L296.9,426.4 L297.2,430.0 L297.5,429.1 L298.7,427.9 L297.7,428.6 L297.8,428.4 L298.4,426.8 L298.6,427.6 L298.1,426.7 L298.7,425.9 L297.4,425.3 L299.4,425.7 L297.6,424.6 L299.1,424.3 L298.0,424.2 L299.6,423.5 L300.4,423.1 L298.0,421.9 L300.0,420.9 L299.6,421.6 L300.4,432.4 L301.7,432.5 L301.2,430.6 L299.3,432.0 L300.7,430.4 L300.7,430.8 L300.4,430.3 L299.9,430.4 L301.4,428.2 L300.8,429.2 L300.5,428.3 L302.1,428.5 L300.4,427.6 L301.4,427.2 L300.0,425.7 L301.1,426.3 L301.2,423.7 L300.6,425.4 L302.4,424.3 L300.3,424.4 L302.5,422.6 L301.5,422.1 L300.4,422.9 L300.7,420.6 L302.9,420.2 L302.5,421.7 L301.1,420.0 L301.9,419.9 L303.3,448.2 L303.5,447.4 L303.6,450.0 L303.8,451.7 L303.9,451.1 L304.1,450.4 L304.2,451.0 L304.4,450.9 L304.5,452.7 L304.7,451.2 L304.8,451.5 L305.0,454.0 L305.1,452.5 L305.3,454.0 L305.5,455.7 L305.7,454.2 L305.9,451.3 L306.1,450.2 L306.4,452.3 L306.6,449.8 L306.8,451.1 L307.0,451.1 L307.2,451.6 L307.4,449.8 L307.7,449.7 L307.9,450.8 L308.2,452.4 L308.4,449.7 L308.7,451.0 L309.0,453.5 L309.2,451.9 L309.5,454.8 L309.8,451.5 L310.0,451.9 L310.3,453.5 L310.5,454.4 L310.8,454.9 L311.3,454.2 L311.7,453.5 L312.2,454.4 L312.6,456.2 L313.1,456.3 L313.5,454.8 L314.0,453.1 L314.4,454.5 L314.9,454.0 L315.2,452.1 L315.5,451.3 L315.8,454.2 L316.1,451.5 L316.4,450.6 L316.8,453.2 L317.1,449.7 L317.4,449.8 L317.7,449.1 L318.0,452.0 L318.3,449.9 L318.8,450.8 L319.2,448.7 L319.7,448.3 L320.2,452.2 L320.7,448.8 L321.1,451.6 L321.6,450.7 L321.9,451.2 L322.3,450.4 L322.6,449.6 L322.9,449.0 L323.2,448.1 L323.6,449.4 L323.9,446.8 L324.2,448.0 L324.6,446.6 L324.9,447.4 L325.2,446.4 L325.6,448.5 L325.9,446.7 L326.2,446.7 L326.5,446.4 L326.9,443.0 L327.2,446.4 L327.5,446.5 L327.9,445.5 L328.2,444.0 L328.4,445.3 L329.5,444.4 L327.8,445.0 L327.6,445.2 L327.9,445.1 L328.7,445.6 L329.0,448.0 L329.7,446.6 L329.9,447.4 L330.2,448.9 L329.6,449.0 L330.7,435.7 L331.2,435.9 L331.8,435.4 L332.3,438.1 L332.9,435.7 L334.1,455.7 L334.6,454.7 L335.2,457.9 L335.7,456.5 L335.2,455.2 L335.3,454.6 L336.7,454.5 L336.2,454.2 L335.8,454.9 L336.3,453.3 L336.9,452.6 L335.4,453.4 L337.3,453.1 L337.0,453.0 L337.6,451.7 L336.0,451.3 L336.7,451.2 L336.6,449.3 L336.3,449.0 L337.7,449.8 L337.3,448.5 L337.8,448.3 L337.4,447.3 L338.6,447.4 L337.5,446.4 L337.5,446.6 L337.6,446.8 L337.5,446.1 L338.3,444.5 L338.8,443.9 L337.5,445.2 L338.2,444.0 L339.9,458.2 L339.2,458.2 L339.9,460.0 L341.1,459.0 L340.5,460.7 L340.3,460.1 L339.6,460.1 L339.5,460.5 L340.9,462.0 L339.7,463.2 L341.6,462.6 L340.4,463.9 L341.1,464.1 L340.2,464.6 L340.8,463.7 L340.1,464.6 L340.6,465.0 L341.9,465.7 L340.7,465.6 L340.4,466.7 L341.2,466.5 L341.5,467.5 L341.5,468.2 L342.6,470.0 L343.8,339.4 L344.9,480.0 L345.2,484.1 L345.7,482.8 L346.2,484.2 L346.7,483.4 L347.1,483.6 L347.6,485.3 L348.1,484.5 L348.6,484.4 L349.1,484.9 L349.3,484.8 L349.5,484.7 L349.7,483.4 L350.2,482.4 L349.2,482.2 L349.6,482.1 L349.7,482.0 L349.7,481.4 L350.3,481.6 L350.9,480.3 L350.1,480.8 L350.9,480.2 L349.9,478.9 L350.4,478.5 L350.6,479.0 L350.6,477.9 L350.6,477.6 L351.1,476.5 L350.4,477.0 L351.7,475.9 L351.3,475.7 L352.1,483.2 L351.7,482.2 L352.4,482.4 L352.9,482.1 L352.4,481.5 L353.0,481.6 L351.9,479.9 L351.9,479.2 L353.1,480.3 L352.6,479.5 L352.9,478.9 L352.5,478.9 L352.4,477.0 L352.0,477.7 L353.3,477.4 L353.4,475.9 L352.7,475.5 L353.6,474.6 L352.7,475.2 L353.3,473.6 L352.5,473.5 L352.7,473.6 L352.4,473.7 L353.2,472.9 L353.1,472.8 L352.7,472.4 L353.0,471.3 L353.6,471.1 L353.6,470.8 L353.6,469.9 L355.0,489.1 L355.4,488.2 L355.8,489.6 L356.2,489.7 L356.6,490.2 L357.1,489.1 L357.5,490.8 L357.9,489.5 L358.3,490.7 L358.7,489.3 L359.1,489.1 L359.6,491.1 L360.0,488.9 L360.4,489.9 L360.8,488.1 L361.2,489.2 L361.7,488.0 L362.1,488.7 L362.5,488.2 L362.9,489.1 L363.3,489.2 L363.7,489.1 L364.0,489.9 L364.4,488.4 L364.8,488.8 L365.2,489.5 L365.6,490.3 L366.0,491.4 L366.4,489.9 L366.8,490.6 L367.1,491.6 L367.5,491.4 L367.9,491.2 L368.3,492.4 L368.7,491.7 L369.1,490.9 L369.5,490.6 L369.9,492.4 L370.4,490.9 L370.8,491.7 L371.2,490.3 L371.6,491.3 L372.0,491.5 L372.4,489.2 L372.8,490.4 L373.2,490.9 L373.7,490.4 L374.1,488.6 L374.5,489.9 L374.9,489.1 L375.4,489.8 L375.8,488.4 L376.3,489.7 L376.7,489.7 L377.2,488.7 L377.6,490.3 L378.1,490.5 L378.5,488.6 L379.0,489.7 L379.4,490.0 L379.9,489.9 L380.3,488.5 L380.7,489.5 L381.1,490.4 L381.6,488.6 L382.0,488.8 L382.4,489.8 L382.8,489.4 L383.2,489.4 L383.6,487.0 L384.1,489.1 L384.5,487.2 L384.9,487.4 L385.3,486.8 L385.7,486.2 L386.1,487.7 L386.6,486.9 L387.0,486.4 L387.4,486.3 L387.8,486.2 L388.2,486.2 L388.6,484.8 L389.1,486.2 L389.5,484.7 L389.9,483.9 L390.3,486.3 L390.7,483.7 L391.1,485.5 L391.6,485.2 L392.0,484.1 L392.4,484.1 L392.9,484.5 L393.3,483.5 L393.8,483.5 L394.2,485.5 L394.7,485.2 L395.1,485.3 L395.6,484.5 L396.0,483.4 L396.5,485.5 L396.9,486.1 L397.4,484.9 L397.8,484.4 L398.3,485.3 L398.8,484.0 L399.2,485.0 L400.4,459.1 L401.7,487.4 L402.2,488.5 L402.6,487.7 L403.1,485.9 L403.6,487.5 L404.0,487.3 L404.5,486.5 L404.9,486.8 L405.4,487.6 L405.9,486.8 L406.3,486.1 L406.8,487.3 L407.3,486.3 L407.7,486.6 L408.2,485.7 L408.5,485.5 L408.9,485.8 L409.2,485.5 L409.5,484.4 L409.9,483.9 L410.2,482.8 L410.5,483.8 L410.8,483.7 L411.2,482.5 L411.5,482.4 L411.8,481.5 L412.0,483.8 L412.2,484.1 L412.5,484.5 L412.8,483.5 L413.0,486.0 L413.2,486.0 L413.5,486.6 L413.8,485.2 L414.0,486.6 L414.4,485.8 L414.8,486.3 L415.3,484.7 L415.7,487.2 L416.1,484.8 L416.5,484.6 L416.9,486.2 L417.4,484.4 L417.8,485.2 L418.2,485.2 L418.6,483.8 L419.1,483.2 L419.5,484.9 L419.9,484.1 L420.3,485.1 L420.8,484.8 L421.2,482.6 L421.7,483.2 L422.1,483.4 L422.5,482.1 L423.0,484.4 L423.4,484.2 L423.9,484.5 L424.3,484.2 L424.7,483.8 L425.2,482.1 L425.6,483.1 L426.1,483.6 L426.5,482.4 L426.9,480.7 L427.4,480.7 L427.8,483.2 L428.2,480.3 L428.6,482.6 L429.1,480.8 L429.5,480.2 L429.9,480.4 L430.3,481.7 L430.8,480.8 L431.2,478.9 L431.6,479.9 L432.0,481.2 L432.3,480.0 L432.7,481.8 L433.0,481.1 L433.4,482.5 L433.7,481.8 L434.1,481.6 L434.5,483.8 L434.8,484.0 L435.2,483.0 L435.5,483.3 L435.9,483.8 L436.2,484.3 L436.6,484.1 L437.2,483.4 L437.9,484.0 L439.1,460.7 L440.5,486.6 L440.8,487.4 L441.0,485.6 L441.3,486.8 L441.5,485.3 L441.8,485.9 L442.0,485.5 L442.3,483.3 L442.5,482.2 L442.8,483.4 L443.0,483.0 L443.3,482.4 L443.5,482.3 L443.7,482.8 L443.9,483.0 L444.1,482.9 L444.3,484.4 L444.6,485.0 L444.8,485.1 L445.0,486.7 L445.2,486.0 L445.4,487.3 L445.6,487.7 L445.8,487.4 L446.1,487.8 L446.4,488.0 L446.8,487.7 L447.1,489.2 L447.4,489.1 L448.2,488.0 L449.1,472.4 L450.5,490.7 L450.7,491.2 L450.9,491.0 L451.1,490.2 L451.3,490.2 L451.5,488.8 L451.7,488.1 L451.9,489.1 L452.1,487.8 L452.3,485.8 L452.5,487.5 L452.7,486.4 L452.9,486.7 L453.1,485.1 L453.3,484.9 L453.6,485.5 L453.6,486.3 L453.4,486.5 L454.2,486.1 L454.1,487.4 L453.6,487.0 L453.8,487.6 L453.4,488.5 L454.1,489.5 L454.1,489.7 L454.1,489.3 L453.9,489.8 L454.3,490.5 L454.4,491.0 L453.8,491.3 L454.9,492.0 L454.6,492.6 L454.5,493.2 L455.0,493.6 L454.9,493.7 L454.5,493.8 L454.8,494.3 L454.6,495.2 L454.9,495.7 L455.2,495.8 L455.4,495.9 L455.7,496.7 L455.9,498.0 L456.2,497.7 L456.5,498.3 L456.7,499.3 L457.0,499.0 L457.3,499.9 L457.5,499.9 L457.8,500.4 L458.0,500.5 L458.3,500.7 L458.8,500.3 L458.4,499.9 L458.3,499.3 L459.1,498.6 L458.7,498.2 L459.0,498.3 L458.9,497.5 L458.7,496.8 L459.2,496.7 L459.7,496.5 L459.5,495.4 L459.9,495.5 L460.0,494.9 L459.9,494.1 L460.0,493.7 L460.2,493.8 L459.9,493.1 L459.7,491.9 L459.9,491.7 L460.4,491.5 L460.4,491.8 L461.0,491.9 L461.1,492.6 L460.5,493.3 L460.8,493.8 L460.4,494.3 L460.5,494.3 L460.8,495.1 L461.4,495.1 L460.8,496.0 L461.1,496.7 L461.7,497.3 L461.9,497.8 L461.3,497.9 L461.3,498.4 L461.9,498.9 L462.2,499.1 L461.8,500.0 L462.2,499.9 L462.0,500.8 L461.8,501.3 L462.5,501.6 L462.1,502.0 L462.4,502.4 L462.8,502.3 L463.1,503.6 L463.5,503.2 L463.8,503.3 L464.2,504.1 L464.5,504.3 L464.9,504.9 L465.8,505.8"/>
<path stroke="#0000ff" stroke-linecap="butt" stroke-width="2.6" d="M250,13.5 H272.5"/>
<path stroke="#007b00" stroke-linecap="butt" stroke-width="2.6" d="M545.5,13.6 H568.9"/>
<path stroke="#ff00ff" stroke-linecap="butt" stroke-width="2.6" d="M401.7,294.2 H424.8"/>
</g>
<text x="275.4" y="16.8" font-size="10.6" letter-spacing=".3">ZnO</text>
<text x="571.6" y="17" font-size="10.7" letter-spacing=".25">MgO</text>
<text x="427.7" y="297.9" font-size="10.5">Al<tspan dy="4">2</tspan><tspan dy="-4">O</tspan><tspan dy="4">3</tspan></text>
<g>
<text transform="translate(60.0,75.5) rotate(-90) scale(.968,1)" font-size="9.70" style="stroke-width:.32px">Zn(2p<tspan dy="3.8">1/2</tspan><tspan dy="-3.8">)</tspan></text>
<text transform="translate(75.3,52.2) rotate(-90) scale(.968,1)" font-size="9.70" style="stroke-width:.32px">Zn(2p<tspan dy="3.8">3/2</tspan><tspan dy="-3.8">)</tspan></text>
<text transform="translate(83.0,164.0) rotate(-90) scale(.968,1)" font-size="9.70" style="stroke-width:.32px">O(KL-1)</text>
<text transform="translate(145.2,157.0) rotate(-90) scale(.968,1)" font-size="9.70" style="stroke-width:.32px">Zn(Auger)</text>
<text transform="translate(160.3,159.3) rotate(-90) scale(.968,1)" font-size="9.70" style="stroke-width:.32px">Zn(Auger)</text>
<text transform="translate(171.6,144.8) rotate(-90) scale(.968,1)" font-size="9.70" style="stroke-width:.32px">O(1s)</text>
<text transform="translate(182.3,130.0) rotate(-90) scale(.968,1)" font-size="9.70" style="stroke-width:.32px">Zn(LMM-2)</text>
<text transform="translate(188.0,177.0) rotate(-90) scale(.968,1)" font-size="9.70" style="stroke-width:.32px">Zn(Auger)</text>
<text transform="translate(223.0,183.6) rotate(-90) scale(.968,1)" font-size="9.70" style="stroke-width:.32px">C(1s)</text>
<text transform="translate(253.3,181.0) rotate(-90) scale(.968,1)" font-size="9.70" style="stroke-width:.32px">Zn(3s)</text>
<text transform="translate(267.3,176.6) rotate(-90) scale(.968,1)" font-size="9.70" style="stroke-width:.32px">Zn(3p)</text>
<text transform="translate(282.6,185.8) rotate(-90) scale(.968,1)" font-size="9.70" style="stroke-width:.32px">Zn(3d)</text>
<text transform="translate(411.5,115.3) rotate(-90) scale(.968,1)" font-size="9.70" style="stroke-width:.32px">O(KLL)</text>
<text transform="translate(498.2,50.1) rotate(-90) scale(.968,1)" font-size="9.70" style="stroke-width:.32px">O(1S)</text>
<text transform="translate(545.8,174.6) rotate(-90) scale(.968,1)" font-size="9.70" style="stroke-width:.32px">C 1S</text>
<text transform="translate(579.2,185.7) rotate(-90) scale(.968,1)" font-size="9.70" style="stroke-width:.32px">Mg(2s)</text>
<text transform="translate(593.2,172.1) rotate(-90) scale(.968,1)" font-size="9.70" style="stroke-width:.32px">Mg(2p)</text>
<text transform="translate(200.0,344.7) rotate(-90) scale(.968,1)" font-size="9.70" style="stroke-width:.32px">C(KLL)</text>
<text transform="translate(241.8,348.5) rotate(-90) scale(.968,1)" font-size="9.70" style="stroke-width:.32px">O(KLL)</text>
<text transform="translate(344.5,334.2) rotate(-90) scale(.968,1)" font-size="9.70" style="stroke-width:.32px">O (1S)</text>
<text transform="translate(402.4,448.6) rotate(-90) scale(.968,1)" font-size="9.70" style="stroke-width:.32px">C 1S</text>
<text transform="translate(442.4,451.3) rotate(-90) scale(.968,1)" font-size="9.70" style="stroke-width:.32px">Al(2s)</text>
<text transform="translate(452.9,466.3) rotate(-90) scale(.968,1)" font-size="9.70" style="stroke-width:.32px">Al(2p)</text>
</g>
</g></svg>
</body></html>
